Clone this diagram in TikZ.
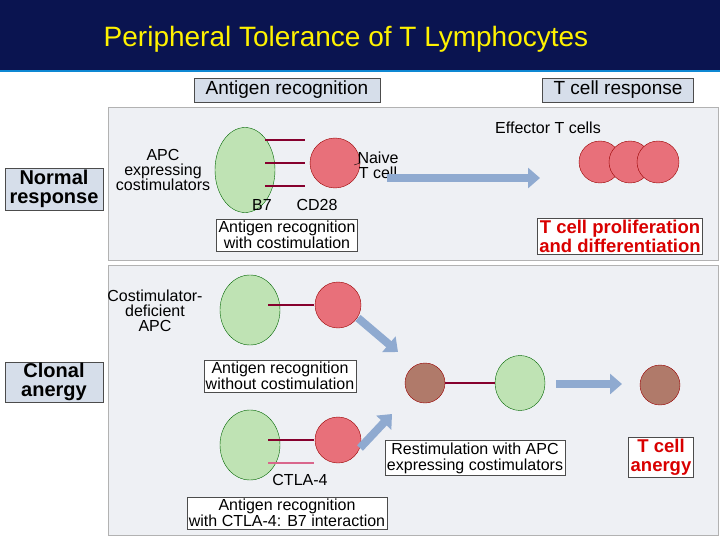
\documentclass[tikz,border=0pt]{standalone}
\usepackage{fontspec}
\setmainfont{Liberation Sans}
\usetikzlibrary{arrows.meta,shapes.geometric}
\definecolor{navy}{HTML}{0A1450}
\definecolor{tagfill}{HTML}{D6DEEA}
\definecolor{panelfill}{HTML}{EEF0F4}
\definecolor{apcgreen}{HTML}{BFE3B4}
\definecolor{tcellred}{HTML}{E8707A}
\definecolor{arrowblue}{HTML}{8FAAD0}
\definecolor{anergybrown}{HTML}{B07A6A}
\tikzset{
  tag/.style={draw=black!70, fill=tagfill, inner sep=2pt, font=\fontsize{19}{20}\selectfont, align=center},
  note/.style={draw=black!70, fill=white, inner sep=2pt, font=\fontsize{16}{16}\selectfont, align=center},
  rednote/.style={note, text=red!85!black, font=\bfseries\fontsize{18.5}{19}\selectfont},
  lbl/.style={font=\fontsize{16}{15}\selectfont, align=center},
  tcell/.style={circle, draw=red!60!black, fill=tcellred, minimum size=#1},
  apc/.style={ellipse, draw=green!40!black, fill=apcgreen, minimum width=60pt, minimum height=#1},
  bigarrow/.style={-{Triangle[length=12pt,width=20pt]}, line width=8pt, draw=arrowblue},
  receptor/.style={draw=purple!70!black, line width=1.4pt}
}
\begin{document}
\begin{tikzpicture}[x=1pt, y=-1pt]
\useasboundingbox (0,0) rectangle (720,540);
\fill[white] (0,0) rectangle (720,540);
% title
\fill[navy] (0,0) rectangle (720,70);
\draw[cyan!70!blue, line width=2pt] (0,71) -- (720,71);
\node[text=yellow, font=\fontsize{28}{30}\selectfont] (title) at (346,39) {Peripheral Tolerance of T Lymphocytes};
% headers
\node[tag, minimum width=186pt, minimum height=24pt] (hrec) at (287,90) {Antigen recognition};
\node[tag, minimum width=151pt, minimum height=24pt] (hresp) at (618,90) {T cell response};
% panels
\draw[black!30, fill=panelfill] (108,107) rectangle (718,260);
\draw[black!30, fill=panelfill] (108,265) rectangle (718,535);
\node[tag, font=\bfseries\fontsize{20}{19}\selectfont, minimum width=98pt, minimum height=42pt, inner sep=1pt] (normal) at (54,189) {Normal\\response};
\node[tag, font=\bfseries\fontsize{20}{19}\selectfont, minimum width=98pt, minimum height=40pt, inner sep=1pt] (anergy) at (54,382) {Clonal\\anergy};

% normal response cells
\node[apc=85pt] (apcA) at (245,170) {};
\node[tcell=50pt] (tA) at (335,163) {};
\foreach \y in {140,163,186} {\draw[receptor] (265,\y) -- (305,\y);}
\node[lbl] (apcAlbl) at (163,170) {APC\\expressing\\costimulators};
\node[lbl] (tAlbl) at (378,165) {Naive\\T cell};
\draw (tAlbl.west) -- (tA.east);
\node[lbl] (b7) at (262,205) {B7};
\node[lbl] (cd28) at (317,205) {CD28};
\node[note] (recA) at (287,235) {Antigen recognition\\with costimulation};
\draw[bigarrow] (387,178) -- (540,178);
\node[lbl] (eff) at (548,128) {Effector T cells};
\foreach \x in {600,630,658} {\node[tcell=42pt] at (\x,162) {};}
\node[rednote] (prolif) at (620,236) {T cell proliferation\\and differentiation};

% clonal anergy cells
\node[apc=70pt] (apcB) at (250,310) {};
\node[tcell=46pt] (tB) at (338,305) {};
\draw[receptor] (268,305) -- (314,305);
\node[lbl] (apcBlbl) at (155,311) {Costimulator-\\deficient\\APC};
\node[note] (recB) at (280,376) {Antigen recognition\\without costimulation};
\node[apc=70pt] (apcC) at (250,445) {};
\node[tcell=46pt] (tC) at (338,440) {};
\draw[receptor] (268,440) -- (314,440);
\draw[draw=purple!60, line width=1.4pt] (268,463) -- (314,463);
\node[lbl] (ctla) at (300,480) {CTLA-4};
\node[note] (recC) at (287,513) {Antigen recognition\\with CTLA-4: B7 interaction};
\draw[bigarrow] (358,318) -- (398,352);
\draw[bigarrow] (360,448) -- (392,414);
\node[tcell=40pt, fill=anergybrown] (tD) at (425,383) {};
\node[apc=55pt, minimum width=50pt] (apcD) at (520,383) {};
\draw[receptor] (tD.east) -- (apcD.west);
\node[note] (restim) at (475,458) {Restimulation with APC\\expressing costimulators};
\draw[bigarrow] (556,384) -- (622,384);
\node[tcell=40pt, fill=anergybrown] (tF) at (660,385) {};
\node[rednote] (anergylbl) at (661,457) {T cell\\anergy};
\end{tikzpicture}
\end{document}
